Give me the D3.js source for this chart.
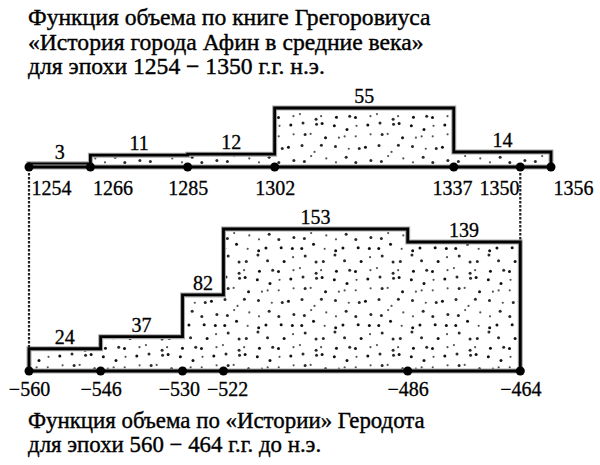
<!DOCTYPE html>
<html><head><meta charset="utf-8">
<script src="https://cdn.jsdelivr.net/npm/d3@7"></script>
<style>html,body{margin:0;padding:0;background:#fff} svg{display:block}</style>
</head><body><svg id="c" width="600" height="465"></svg>
<script>
// ---------- data ----------
const topTitle = ["Функция объема по книге Грегоровиуса",
                  "«История города Афин в средние века»",
                  "для эпохи 1254 − 1350 г.г. н.э."];
const bottomTitle = ["Функция объема по «Истории» Геродота",
                     "для эпохи 560 − 464 г.г. до н.э."];
const topBreaks = [1254, 1266, 1285, 1302, 1337, 1356];
const topValues = [3, 11, 12, 55, 14];
const topTicks = [1254, 1266, 1285, 1302, 1337, 1350, 1356];
const bottomBreaks = [-560, -546, -530, -522, -486, -464];
const bottomValues = [24, 37, 82, 153, 139];
const bottomTicks = [-560, -546, -530, -522, -486, -464];
const links = [[1254, -560], [1350, -464]];

// ---------- layout ----------
const svg = d3.select("#c");
const FONT = "'Liberation Serif','Times New Roman',serif";
const left = 29, right = 551;
const topBase = 167, topPeak = 108;
const botBase = 371, botPeak = 229;

const shift = links[0][0] - links[0][1];
const x = d3.scaleLinear()
  .domain([d3.min(bottomBreaks), d3.max([...bottomBreaks, ...topBreaks.map(t => t - shift)])])
  .range([left, right]);
const xTop = d3.scaleLinear().domain(x.domain().map(d => d + shift)).range(x.range());
const yTop = d3.scaleLinear().domain([0, d3.max(topValues)]).range([topBase, topPeak]);
const yBot = d3.scaleLinear().domain([0, d3.max(bottomValues)]).range([botBase, botPeak]);

// stipple texture: jittered grid inside one pattern tile (deterministic hash)
function hash(n) { const s = Math.sin(n * 12.9898 + 78.233) * 43758.5453; return s - Math.floor(s); }
const cell = 11, cells = 7, tile = cell * cells;
const pat = svg.append("defs").append("pattern")
  .attr("id", "stip").attr("patternUnits", "userSpaceOnUse")
  .attr("width", tile).attr("height", tile);
pat.append("rect").attr("width", tile).attr("height", tile).attr("fill", "#fff");
d3.range(cells * cells).forEach(k => {
  const cx = (k % cells) * cell + 1.8 + hash(k) * (cell - 3.6);
  const cy = Math.floor(k / cells) * cell + 1.8 + hash(k + 101) * (cell - 3.6);
  const h = hash(k + 211);
  pat.append("circle").attr("cx", cx).attr("cy", cy)
    .attr("r", h < 0.3 ? 1.1 : 1.5)
    .attr("fill", h < 0.3 ? "#555" : (h < 0.65 ? "#2a2a2a" : "#111"));
});

function stepPoints(breaks, values) {
  const pts = [];
  values.forEach((v, i) => { pts.push([breaks[i], v]); pts.push([breaks[i + 1], v]); });
  return pts;
}

function drawChart(breaks, values, ticks, xs, ys, base, labelPad, fmt, anchorFn) {
  const g = svg.append("g");
  const pts = stepPoints(breaks, values);
  g.append("path")
    .attr("d", d3.area().x(d => xs(d[0])).y0(base).y1(d => ys(d[1]))(pts))
    .attr("fill", "url(#stip)");
  const outline = [[breaks[0], 0], ...pts, [breaks[breaks.length - 1], 0]];
  const line = d3.line().x(d => xs(d[0])).y(d => ys(d[1]));
  g.append("path").attr("d", line(outline)).attr("fill", "none")
    .attr("stroke", "#a8a8a8").attr("stroke-width", 5);
  g.append("path").attr("d", line(outline)).attr("fill", "none")
    .attr("stroke", "#000").attr("stroke-width", 2.8);
  const ext = d3.extent(ticks);
  g.append("line").attr("x1", xs(ext[0]) - 3).attr("x2", xs(ext[1]) + 3)
    .attr("y1", base).attr("y2", base).attr("stroke", "#a8a8a8").attr("stroke-width", 5);
  g.append("line").attr("x1", xs(ext[0]) - 3).attr("x2", xs(ext[1]) + 3)
    .attr("y1", base).attr("y2", base).attr("stroke", "#000").attr("stroke-width", 3);
  g.selectAll("circle.tk").data(ticks).join("circle").attr("class", "tk")
    .attr("cx", d => xs(d)).attr("cy", base).attr("r", 4.5).attr("fill", "#000");
  g.selectAll("text.val").data(values).join("text").attr("class", "val")
    .attr("x", (d, i) => (xs(breaks[i]) + xs(breaks[i + 1])) / 2)
    .attr("y", d => ys(d) - 5)
    .attr("text-anchor", "middle")
    .attr("font-family", FONT).attr("font-size", 20)
    .attr("stroke", "#000").attr("stroke-width", 0.3)
    .text(d => d);
  const ax = svg.append("g").attr("transform", `translate(0,${base})`)
    .call(d3.axisBottom(xs).tickValues(ticks).tickSize(0).tickPadding(labelPad).tickFormat(fmt));
  ax.select(".domain").remove();
  const texts = ax.selectAll("text")
    .attr("font-family", FONT).attr("font-size", 20).attr("fill", "#000")
    .attr("stroke", "#000").attr("stroke-width", 0.3);
  texts.each(function (d, i, n) {
    const a = anchorFn(i, n.length);
    d3.select(this).attr("text-anchor", a).attr("dx", a === "start" ? 2 : (a === "end" ? -3 : 0));
  });
  const nodes = texts.nodes();
  for (let k = 0; k < 3; k++) {
    for (let i = 0; i < nodes.length - 1; i++) {
      const a = nodes[i].getBBox(), b = nodes[i + 1].getBBox();
      const tA = nodes[i].parentNode.transform.baseVal.consolidate().matrix.e;
      const tB = nodes[i + 1].parentNode.transform.baseVal.consolidate().matrix.e;
      const overlap = (tA + a.x + a.width + 7) - (tB + b.x);
      if (overlap > 0) {
        const da = +d3.select(nodes[i]).attr("dx"), db = +d3.select(nodes[i + 1]).attr("dx");
        d3.select(nodes[i]).attr("dx", da - overlap / 2);
        d3.select(nodes[i + 1]).attr("dx", db + overlap / 2);
      }
    }
  }
}

drawChart(topBreaks, topValues, topTicks, xTop, yTop, topBase, 14, d3.format("d"),
  (i, n) => (i < 2 || i === n - 1) ? "start" : (i === n - 2 ? "end" : "middle"));
drawChart(bottomBreaks, bottomValues, bottomTicks, x, yBot, botBase, 11,
  d => d < 0 ? "−" + Math.abs(d) : String(d), () => "middle");

// dashed connectors
links.forEach(([t, b]) => {
  const bi = bottomBreaks.indexOf(b);
  const v = bi < bottomValues.length ? bottomValues[bi] : bottomValues[bi - 1];
  svg.append("line")
    .attr("x1", xTop(t)).attr("x2", x(b))
    .attr("y1", topBase + 6).attr("y2", yBot(v) - 1)
    .attr("stroke", "#222").attr("stroke-width", 2.2).attr("stroke-dasharray", "2.5,1.5");
});

// titles: one font size per block, fitted to the reference line widths
function titles(lines, y0, step, widths) {
  const nodes = lines.map((s, i) => svg.append("text")
    .attr("x", left - 1).attr("y", y0 + i * step)
    .attr("font-family", FONT).attr("font-size", 20)
    .attr("stroke", "#000").attr("stroke-width", 0.4)
    .text(s));
  const ratio = d3.mean(nodes, (n, i) => widths[i] / n.node().getComputedTextLength());
  nodes.forEach(n => n.attr("font-size", 20 * ratio));
}
titles(topTitle, 25, 24.5, [427, 419, 262]);
titles(bottomTitle, 428, 23.5, [430, 269]);
</script></body></html>
